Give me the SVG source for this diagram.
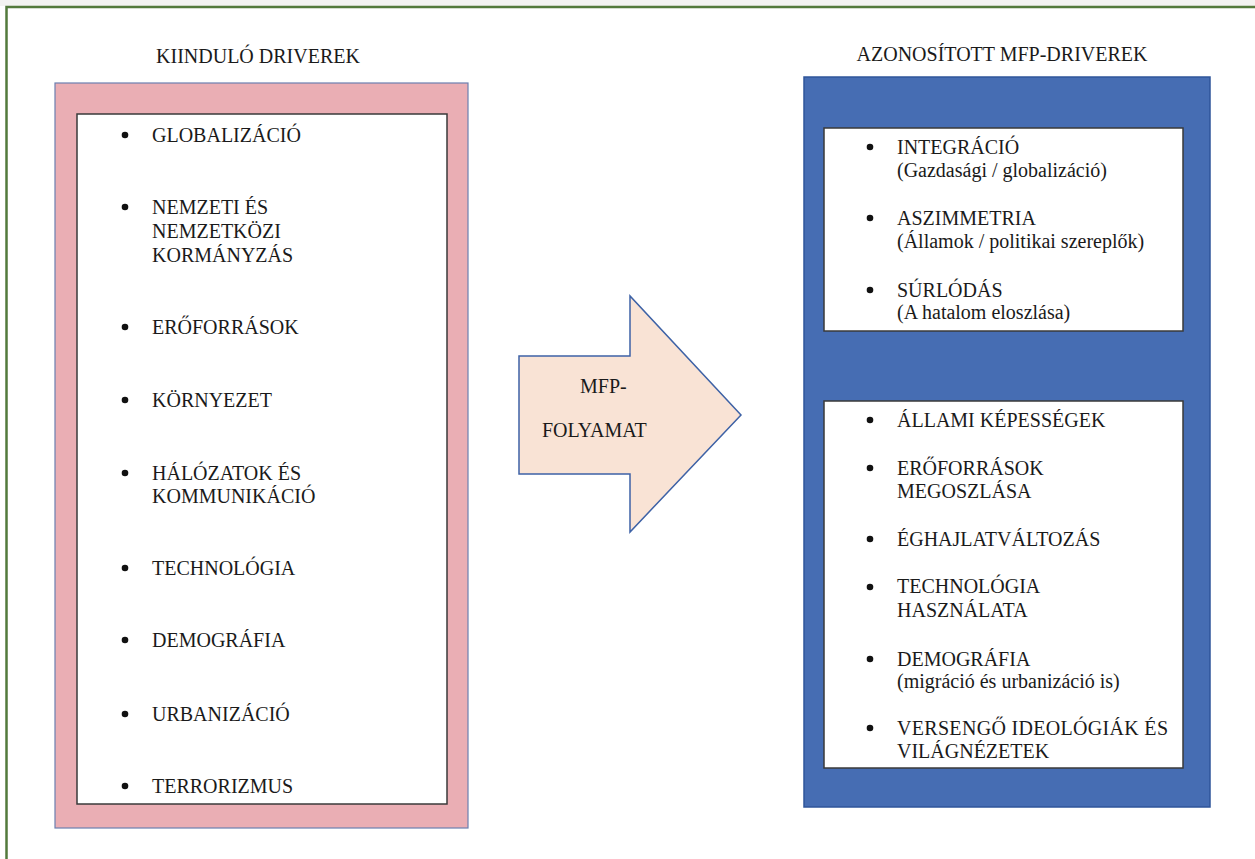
<svg xmlns="http://www.w3.org/2000/svg" width="1255" height="859" viewBox="0 0 1255 859">
<style>
.t{font-family:"Liberation Serif","Times New Roman",serif;font-size:20px;fill:#1a1a1a}
.b{fill:#111}
.inner{fill:#ffffff;stroke:#3a3a3a;stroke-width:1.5}
</style>
<rect x="0" y="0" width="1255" height="859" fill="#ffffff"/>
<rect x="0" y="0" width="1255" height="6" fill="#f3f3f1"/>
<path d="M6.5 859 V7 H1255" fill="none" stroke="#537a3c" stroke-width="2.5"/>

<g id="left-title"><text class="t" x="258" y="63" text-anchor="middle">KIINDULÓ DRIVEREK</text></g>

<g id="left-box">
<rect x="55" y="83" width="413" height="745" fill="#eaaeb4" stroke="#6c7fb0" stroke-width="1.2"/>
<rect class="inner" x="77" y="114" width="370" height="690"/>
<g class="b">
<circle cx="125" cy="135" r="3.3"/>
<circle cx="125" cy="207" r="3.3"/>
<circle cx="125" cy="327" r="3.3"/>
<circle cx="125" cy="400" r="3.3"/>
<circle cx="125" cy="473" r="3.3"/>
<circle cx="125" cy="568" r="3.3"/>
<circle cx="125" cy="640" r="3.3"/>
<circle cx="125" cy="714" r="3.3"/>
<circle cx="125" cy="786" r="3.3"/>
</g>
<text class="t" x="152" y="142">GLOBALIZÁCIÓ</text>
<text class="t" x="152" y="214">NEMZETI ÉS</text>
<text class="t" x="152" y="238">NEMZETKÖZI</text>
<text class="t" x="152" y="262">KORMÁNYZÁS</text>
<text class="t" x="152" y="334">ERŐFORRÁSOK</text>
<text class="t" x="152" y="407">KÖRNYEZET</text>
<text class="t" x="152" y="480">HÁLÓZATOK ÉS</text>
<text class="t" x="152" y="503">KOMMUNIKÁCIÓ</text>
<text class="t" x="152" y="575">TECHNOLÓGIA</text>
<text class="t" x="152" y="647">DEMOGRÁFIA</text>
<text class="t" x="152" y="721">URBANIZÁCIÓ</text>
<text class="t" x="152" y="793">TERRORIZMUS</text>
</g>

<g id="connectors">
<g id="arrow">
<polygon points="519,356 630,356 630,296 741,415 630,532 630,474 519,474" fill="#f9e3d5" stroke="#3e62a6" stroke-width="1.5" stroke-linejoin="miter"/>
<text class="t" x="580" y="393">MFP-</text>
<text class="t" x="542" y="437">FOLYAMAT</text>
</g>
</g>

<g id="right-title"><text class="t" x="1002" y="61" text-anchor="middle">AZONOSÍTOTT MFP-DRIVEREK</text></g>

<g id="right-box">
<rect x="804" y="77" width="406" height="730" fill="#466db3" stroke="#2f559a" stroke-width="1.5"/>
</g>

<g id="right-box-top">
<rect class="inner" x="824" y="128" width="359" height="203"/>
<g class="b">
<circle cx="870" cy="147" r="3.3"/>
<circle cx="870" cy="218" r="3.3"/>
<circle cx="870" cy="290" r="3.3"/>
</g>
<text class="t" x="897" y="154">INTEGRÁCIÓ</text>
<text class="t" x="897" y="177">(Gazdasági / globalizáció)</text>
<text class="t" x="897" y="225">ASZIMMETRIA</text>
<text class="t" x="897" y="248">(Államok / politikai szereplők)</text>
<text class="t" x="897" y="297">SÚRLÓDÁS</text>
<text class="t" x="897" y="319">(A hatalom eloszlása)</text>
</g>

<g id="right-box-bottom">
<rect class="inner" x="824" y="401" width="359" height="367"/>
<g class="b">
<circle cx="870" cy="420" r="3.3"/>
<circle cx="870" cy="468" r="3.3"/>
<circle cx="870" cy="539" r="3.3"/>
<circle cx="870" cy="587" r="3.3"/>
<circle cx="870" cy="659" r="3.3"/>
<circle cx="870" cy="728" r="3.3"/>
</g>
<text class="t" x="897" y="427">ÁLLAMI KÉPESSÉGEK</text>
<text class="t" x="897" y="475">ERŐFORRÁSOK</text>
<text class="t" x="897" y="498">MEGOSZLÁSA</text>
<text class="t" x="897" y="546">ÉGHAJLATVÁLTOZÁS</text>
<text class="t" x="897" y="593">TECHNOLÓGIA</text>
<text class="t" x="897" y="617">HASZNÁLATA</text>
<text class="t" x="897" y="666">DEMOGRÁFIA</text>
<text class="t" x="897" y="688">(migráció és urbanizáció is)</text>
<text class="t" x="897" y="735" textLength="271" lengthAdjust="spacing">VERSENGŐ IDEOLÓGIÁK ÉS</text>
<text class="t" x="897" y="758">VILÁGNÉZETEK</text>
</g>
</svg>
